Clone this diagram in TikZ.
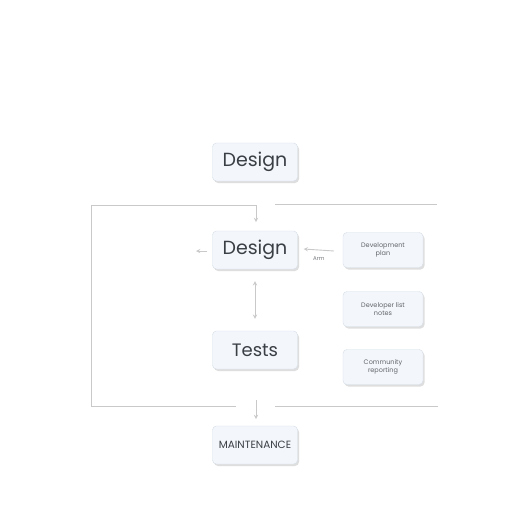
\documentclass[tikz,border=0pt]{standalone}
\usepackage{fontspec}
\setmainfont{Poppins}
\usetikzlibrary{shapes.geometric, arrows, shadows}
\definecolor{boxfill}{HTML}{F3F7FC}
\definecolor{boxline}{HTML}{D5DEE8}
\definecolor{wire}{HTML}{C9C9C9}
\definecolor{ink}{HTML}{3A3F45}
\tikzstyle{stage} = [rectangle, rounded corners=4pt, minimum width=85pt, minimum height=38pt, text centered, draw=boxline, fill=boxfill, text=ink, drop shadow={shadow xshift=1.5pt, shadow yshift=-2pt, fill=black!25, opacity=0.5}]
\tikzstyle{note} = [rectangle, rounded corners=4pt, minimum width=80pt, minimum height=35pt, text centered, align=center, draw=boxline, fill=boxfill, text=ink!80, font=\fontsize{6.5}{7.5}\selectfont, drop shadow={shadow xshift=1.5pt, shadow yshift=-2pt, fill=black!25, opacity=0.5}]
\tikzstyle{arrow} = [wire, line width=0.9pt, ->, >=stealth]
\tikzstyle{wireline} = [wire, line width=1pt]

\begin{document}
\begin{tikzpicture}[x=1pt, y=-1pt]
\useasboundingbox [fill=white] (0,0) rectangle (512,512);

\node (design_top) [stage, font=\fontsize{19}{22}\selectfont] at (255,162) {Design};

\node (design) [stage, font=\fontsize{19}{22}\selectfont] at (255,250) {Design};

\node (tests) [stage, font=\fontsize{18}{21}\selectfont] at (255,350) {Tests};

\node (maint) [stage, font=\fontsize{10.5}{12}\selectfont] at (255,445) {MAINTENANCE};

\node (plan) [note] at (383,250) {Development\\plan};
\node (list) [note] at (383,309) {Developer list\\notes};
\node (community) [note] at (383,367) {Community\\reporting};

% frame round the middle stages
\coordinate (tl) at (91,205);
\coordinate (tc) at (256,205);
\coordinate (tr1) at (275,204);
\coordinate (tr2) at (437,204);
\coordinate (bl) at (91,406);
\coordinate (bc) at (236,406);
\coordinate (br1) at (275,406);
\coordinate (br2) at (438,406);
\coordinate (bin) at (256,400);
\coordinate (bout) at (256,419);
\coordinate (din) at (256,222);
\coordinate (lout) at (196,251);
\coordinate (rin) at (334,251);

\draw [wireline] (bc) -- (bl) -- (tl) -- (tc);
\draw [arrow] (tc) -- (din);
\draw [wireline] (tr1) -- (tr2);
\draw [wireline] (br1) -- (br2);
\draw [arrow] (bin) -- (bout);

\draw [arrow] (design.west) ++(-5,1) -- (lout);
\draw [arrow] (rin) -- ([xshift=6pt,yshift=1pt]design.east) node [midway, below=3pt, text=ink!70, font=\fontsize{5.5}{6}\selectfont] {Arm};
\draw [arrow, <->] ([yshift=-12pt]design.south) -- ([yshift=12pt]tests.north);

\end{tikzpicture}
\end{document}
